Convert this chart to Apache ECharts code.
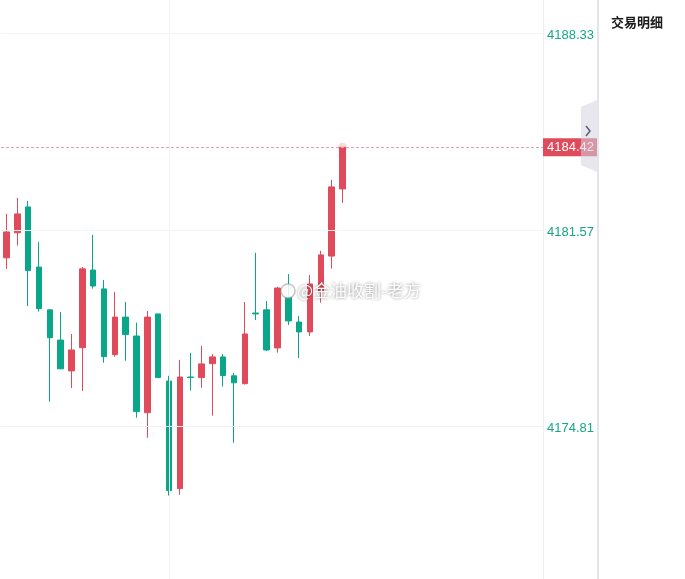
<!DOCTYPE html>
<html>
<head>
<meta charset="utf-8">
<script src="https://cdn.jsdelivr.net/npm/echarts@6/dist/echarts.min.js"></script>
<style>
html,body{margin:0;padding:0;background:#fff}
#main{width:685px;height:579px}
</style>
</head>
<body>
<div id="main"></div>
<script>
// candle data (left to right)
var opens  = [4180.62,4181.48,4182.37,4180.30,4178.83,4177.79,4176.73,4177.53,4180.20,4179.55,4177.29,4178.58,4177.93,4175.29,4178.69,4176.38,4172.68,4176.52,4176.50,4176.98,4177.21,4176.56,4176.29,4178.72,4178.83,4177.52,4179.27,4178.41,4178.07,4179.45,4180.68,4182.99];
var closes = [4181.51,4182.13,4180.18,4178.87,4177.87,4176.80,4177.45,4180.24,4179.65,4177.22,4178.58,4177.98,4175.33,4178.58,4176.50,4172.61,4176.52,4176.50,4176.97,4177.21,4176.57,4176.32,4178.00,4178.69,4177.45,4179.58,4178.45,4178.07,4179.72,4180.72,4183.06,4184.42];
var lows   = [4180.24,4181.04,4178.96,4178.77,4175.67,4176.80,4176.14,4176.04,4179.56,4177.01,4177.22,4177.08,4175.12,4174.43,4176.50,4172.44,4172.47,4176.05,4176.15,4175.19,4176.19,4174.26,4176.26,4178.48,4177.41,4177.36,4178.31,4177.17,4177.93,4179.08,4180.25,4182.51];
var highs  = [4182.13,4182.68,4182.58,4181.16,4178.83,4178.76,4178.00,4180.30,4181.41,4179.86,4179.44,4179.10,4178.39,4178.79,4178.69,4176.56,4177.11,4177.35,4177.59,4177.31,4177.31,4176.66,4179.10,4180.79,4179.13,4179.62,4180.06,4178.62,4180.03,4180.86,4183.30,4184.42];

var yTicks = [4188.33, 4181.57, 4174.81];
var lastPrice = 4184.42;
var slotCount = 50; // empty slots on the right of the last candle
var categories = [];
for (var i = 0; i < slotCount; i++) categories.push(String(i));

var UP = '#df4b5b', DOWN = '#0aa68a';

var candles = opens.map(function(o, i){
    return [o, closes[i], lows[i], highs[i]];
});

var levelLines = yTicks.map(function(v){
    return {
        yAxis: v,
        lineStyle: {color: '#f2f2f4', type: 'solid', width: 1},
        label: {position: 'end', distance: 4, color: '#17a589', fontSize: 13, offset: [0, 2], formatter: String(v)}
    };
});

var myChart = echarts.init(document.getElementById('main'));
var option = {
    animation: false,
    grid: {left: 1, right: 142, top: 0, bottom: 0, outerBoundsMode: 'none'},
    xAxis: {
        type: 'category',
        data: categories,
        boundaryGap: true,
        axisLine: {show: false},
        axisTick: {show: false},
        axisLabel: {show: false},
        splitLine: {show: false}
    },
    yAxis: {
        type: 'value',
        position: 'right',
        min: 4169.57,
        max: 4189.49,
        axisLine: {show: true, lineStyle: {color: '#eeeef1'}},
        axisTick: {show: false},
        axisLabel: {show: false},
        splitLine: {show: false}
    },
    series: [{
        type: 'candlestick',
        data: candles,
        barWidth: 6,
        itemStyle: {
            color: UP, color0: DOWN,
            borderColor: UP, borderColor0: DOWN,
            borderWidth: 1
        },
        markLine: {
            silent: true,
            symbol: ['none', 'none'],
            precision: 2,
            data: levelLines.concat([
                {
                    xAxis: 15,
                    lineStyle: {color: '#f2f2f4', type: 'solid', width: 1},
                    label: {show: false}
                },
                {
                    yAxis: lastPrice,
                    lineStyle: {color: '#e4a3ab', type: [3, 2], width: 1},
                    label: {
                        position: 'end', distance: 0,
                        backgroundColor: UP, color: '#fff',
                        fontSize: 13, padding: [3, 4, 2, 4],
                        formatter: String(lastPrice)
                    }
                }
            ])
        }
    }, {
        type: 'scatter',
        silent: true,
        data: [[opens.length - 1, lastPrice]],
        symbolSize: 9,
        itemStyle: {color: 'rgba(223,75,91,0.22)', shadowColor: 'rgba(223,75,91,0.5)', shadowBlur: 8}
    }],
    graphic: [
        {type: 'rect', z: 100, shape: {x: 597, y: 0, width: 2, height: 579}, style: {fill: '#e2e5eb'}},
        {type: 'polygon', z: 100, shape: {points: [[581, 107], [597, 100], [597, 172], [581, 165]]}, style: {fill: 'rgba(212,212,222,0.55)'}},
        {type: 'polyline', z: 101, shape: {points: [[586, 126], [590, 131], [586, 136]]}, style: {stroke: '#5b6070', lineWidth: 1.5, fill: null}},
        {type: 'text', z: 100, x: 611, y: 22, style: {text: '交易明细', fill: '#1a1a1a', fontSize: 13, fontWeight: 'bold', fontFamily: 'Noto Sans CJK SC', verticalAlign: 'middle'}},
        {type: 'circle', z: 100, shape: {cx: 288, cy: 291, r: 7}, style: {fill: 'rgba(255,255,255,0.85)', stroke: 'rgba(150,150,150,0.55)', lineWidth: 1.5}},
        {type: 'text', z: 100, x: 297, y: 291, style: {
            text: '@金油收割-老方', fill: 'rgba(255,255,255,0.95)', fontSize: 17,
            fontFamily: 'Noto Sans CJK SC', verticalAlign: 'middle',
            textShadowColor: 'rgba(0,0,0,0.5)', textShadowBlur: 3
        }}
    ]
};
myChart.setOption(option);
</script>
</body>
</html>
